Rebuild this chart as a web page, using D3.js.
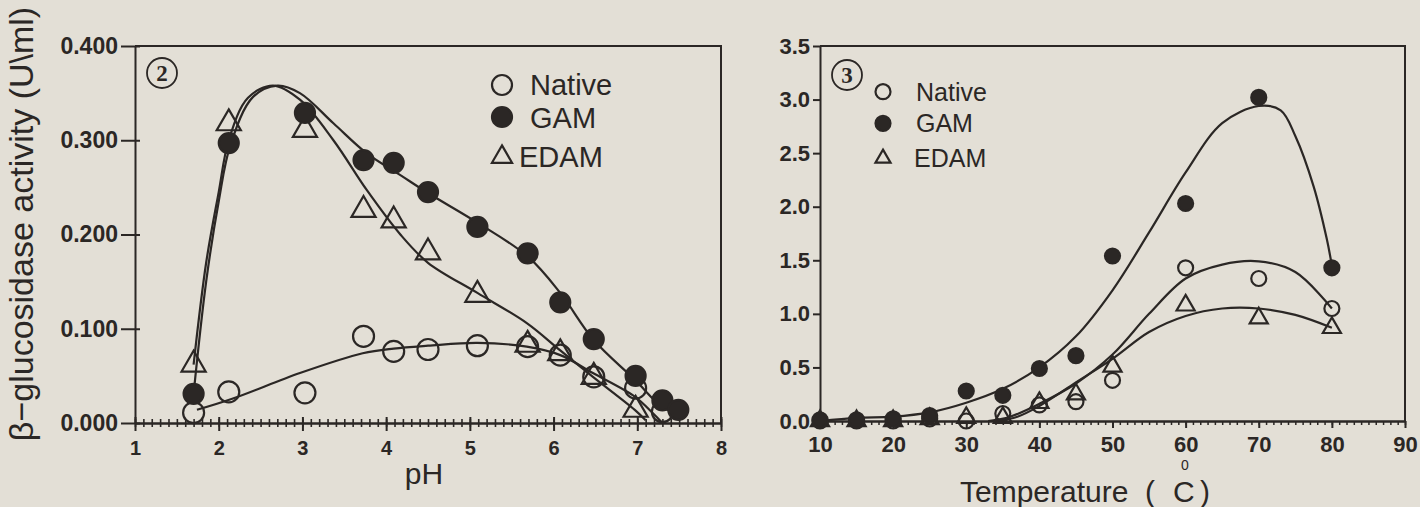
<!DOCTYPE html>
<html>
<head>
<meta charset="utf-8">
<script src="https://cdn.jsdelivr.net/npm/d3@7"></script>
<style>
  body { margin: 0; background: #e3dfd6; }
</style>
</head>
<body>
<div id="chart"></div>
<script>
// ---- panel 2 : activity vs pH ----
const phPoints = [1.7, 2.12, 3.03, 3.73, 4.09, 4.5, 5.09, 5.69, 6.08, 6.48, 6.98, 7.3, 7.49];
const phNative = [0.011, 0.033, 0.032, 0.092, 0.076, 0.078, 0.082, 0.081, 0.072, 0.049, 0.037, 0.012, null];
const phGam    = [0.031, 0.297, 0.329, 0.279, 0.276, 0.245, 0.208, 0.180, 0.128, 0.089, 0.050, 0.024, 0.014];
const phEdam   = [0.062, 0.318, 0.311, 0.226, 0.215, 0.181, 0.136, 0.083, 0.074, 0.049, 0.014, null, null];

// fitted curves as drawn in the figure
const phGamCurve = [[1.7, 0.031], [1.85, 0.15], [2.0, 0.235], [2.14, 0.295], [2.41, 0.346], [2.7, 0.358],
  [2.97, 0.350], [3.37, 0.318], [3.77, 0.286], [4.17, 0.263], [4.5, 0.244], [5.1, 0.212], [5.7, 0.176],
  [6.08, 0.138], [6.48, 0.088], [6.97, 0.046], [7.3, 0.017], [7.5, 0.010]];
const phEdamCurve = [[1.7, 0.062], [1.85, 0.17], [2.0, 0.245], [2.12, 0.30], [2.35, 0.345], [2.65, 0.358],
  [2.97, 0.343], [3.37, 0.300], [3.77, 0.247], [4.17, 0.200], [4.5, 0.170], [5.09, 0.138], [5.68, 0.106],
  [6.08, 0.077], [6.47, 0.049], [6.97, 0.014], [7.1, 0.003]];
const phNativeCurve = [[1.74, 0.014], [2.17, 0.026], [2.97, 0.053], [3.72, 0.074], [4.09, 0.079], [4.5, 0.082],
  [5.09, 0.085], [5.68, 0.081], [6.08, 0.072], [6.47, 0.053], [6.97, 0.028], [7.19, 0.010], [7.3, 0.0]];

const phXTicks = [1, 2, 3, 4, 5, 6, 7, 8];
const phYTicks = [0, 0.1, 0.2, 0.3, 0.4];

// ---- panel 3 : activity vs temperature ----
const tempPoints = [10, 15, 20, 25, 30, 35, 40, 45, 50, 60, 70, 80];
const tempNative = [0.0, 0.0, 0.0, 0.02, 0.0, 0.07, 0.15, 0.18, 0.38, 1.43, 1.33, 1.05];
const tempGam    = [0.01, 0.01, 0.02, 0.05, 0.28, 0.24, 0.49, 0.61, 1.54, 2.03, 3.02, 1.43];
const tempEdam   = [0.0, 0.0, 0.0, 0.02, 0.03, 0.03, 0.17, 0.25, 0.51, 1.08, 0.96, 0.87];

const tempGamCurve = [[10, 0.0], [15, 0.03], [20, 0.04], [25, 0.08], [30, 0.17], [35, 0.30], [40, 0.50],
  [45, 0.79], [50, 1.22], [55, 1.76], [60, 2.32], [65, 2.78], [70, 2.94], [73, 2.90], [75, 2.66],
  [77.5, 2.19], [79.3, 1.70], [80, 1.45]];
const tempNativeCurve = [[33, 0.0], [36, 0.04], [40, 0.16], [45, 0.35], [50, 0.62], [55, 1.00], [60, 1.33],
  [65, 1.46], [70, 1.49], [75, 1.39], [80, 1.05]];
const tempEdamCurve = [[34, 0.0], [37, 0.04], [40, 0.14], [45, 0.36], [50, 0.58], [55, 0.83], [60, 0.98],
  [65, 1.05], [70, 1.05], [75, 0.99], [80, 0.87]];

const tempXTicks = [10, 20, 30, 40, 50, 60, 70, 80, 90];
const tempYTicks = [0, 0.5, 1.0, 1.5, 2.0, 2.5, 3.0, 3.5];

const seriesNames = ["Native", "GAM", "EDAM"];

const ink = "#2b2725";
const paper = "#e3dfd6";
const font = "'Liberation Sans', Arial, sans-serif";

const svg = d3.select("#chart").append("svg")
    .attr("width", 1420)
    .attr("height", 507);

svg.append("rect").attr("width", 1420).attr("height", 507).attr("fill", paper);

const line = (x, y) => d3.line()
    .x(d => x(d[0]))
    .y(d => y(d[1]))
    .curve(d3.curveCatmullRom.alpha(0.5));

function drawMarkers(g, xs, ys, kind, r, x, y) {
    const pts = xs.map((d, i) => [d, ys[i]]).filter(d => d[1] !== null);
    let sym, size;
    if (kind === "EDAM") { sym = d3.symbolTriangle; size = r * r * 1.75; }
    else { sym = d3.symbolCircle; size = Math.PI * r * r; }
    g.selectAll(null)
        .data(pts)
        .enter().append("path")
        .attr("d", d3.symbol().type(sym).size(size))
        .attr("transform", d => `translate(${x(d[0])},${y(d[1])})`)
        .attr("fill", kind === "GAM" ? ink : "none")
        .attr("stroke", ink)
        .attr("stroke-width", 2.2);
}

function styleAxis(g, size) {
    g.attr("font-family", font).attr("font-size", size).attr("font-weight", "bold");
    g.selectAll("path, line").attr("stroke", ink).attr("stroke-width", 2);
    g.selectAll("text").attr("fill", ink);
}

function circledNumber(cx, cy, r, label) {
    svg.append("circle").attr("cx", cx).attr("cy", cy).attr("r", r)
        .attr("fill", "none").attr("stroke", ink).attr("stroke-width", 1.8);
    svg.append("text").attr("x", cx).attr("y", cy + 8)
        .attr("text-anchor", "middle")
        .attr("font-family", "'Liberation Serif', 'DejaVu Serif', serif")
        .attr("font-weight", "bold")
        .attr("font-size", 23)
        .attr("fill", ink)
        .text(label);
}

function legend(x0, textX, rows, r, fontSize) {
    const g = svg.append("g");
    seriesNames.forEach((name, i) => {
        drawMarkers(g, [0], [0], name, r, () => x0, () => rows[i][0]);
        g.append("text")
            .attr("x", textX[i])
            .attr("y", rows[i][1])
            .attr("font-family", font)
            .attr("font-size", fontSize)
            .attr("fill", ink)
            .text(name);
    });
}

// ================= panel 2 =================
{
    const x = d3.scaleLinear().domain([1, 8]).range([135, 721]);
    const y = d3.scaleLinear().domain([0, 0.4]).range([423, 46]);

    // frame (top and right)
    svg.append("path")
        .attr("d", `M${x(1)},${y(0.4)}H${x(8)}V${y(0)}`)
        .attr("fill", "none").attr("stroke", ink).attr("stroke-width", 2);

    // minor x ticks crossing the axis
    svg.append("g")
        .attr("transform", `translate(0,${y(0)})`)
        .call(d3.axisBottom(x).tickValues(d3.range(10, 81).map(d => d / 10)).tickSize(4).tickSizeOuter(0).tickFormat(""))
        .call(g => styleAxis(g, 20))
        .call(g => g.selectAll(".tick line").attr("y1", -4).attr("stroke-width", 1.6));

    svg.append("g")
        .attr("transform", `translate(0,${y(0)})`)
        .call(d3.axisBottom(x).tickValues(phXTicks).tickSize(8).tickPadding(10).tickSizeOuter(0).tickFormat(d3.format("d")))
        .call(g => styleAxis(g, 20))
        .call(g => g.selectAll(".tick line").attr("y1", -6));

    svg.append("g")
        .attr("transform", `translate(${x(1)},0)`)
        .call(d3.axisLeft(y).tickValues(phYTicks).tickSize(14).tickPadding(3).tickSizeOuter(0).tickFormat(d3.format(".3f")))
        .call(g => styleAxis(g, 23))
        .call(g => g.selectAll(".tick line").attr("x1", 5));

    const g = svg.append("g");
    [phNativeCurve, phGamCurve, phEdamCurve].forEach(c => {
        g.append("path").attr("d", line(x, y)(c))
            .attr("fill", "none").attr("stroke", ink).attr("stroke-width", 2.2);
    });
    drawMarkers(g, phPoints, phNative, "Native", 10.5, x, y);
    drawMarkers(g, phPoints, phEdam, "EDAM", 12, x, y);
    drawMarkers(g, phPoints, phGam, "GAM", 10, x, y);

    svg.append("text")
        .attr("x", 424)
        .attr("y", 484)
        .attr("text-anchor", "middle")
        .attr("font-family", font)
        .attr("font-size", 30)
        .attr("fill", ink)
        .text("pH");

    svg.append("text")
        .attr("transform", "translate(33,224) rotate(-90)")
        .attr("text-anchor", "middle")
        .attr("font-family", font)
        .attr("font-size", 34)
        .attr("fill", ink)
        .text("\u03b2\u2212glucosidase activity (U\\ml)");

    circledNumber(162, 73, 15, "2");
    legend(502, [530, 530, 519], [[85, 95], [117, 128], [157, 167]], 10, 29);
}

// ================= panel 3 =================
{
    const x = d3.scaleLinear().domain([10, 90]).range([820, 1405]);
    const y = d3.scaleLinear().domain([0, 3.5]).range([421, 46]);

    svg.append("path")
        .attr("d", `M${x(10)},${y(3.5)}H${x(90)}V${y(0)}`)
        .attr("fill", "none").attr("stroke", ink).attr("stroke-width", 2);

    svg.append("g")
        .attr("transform", `translate(0,${y(0)})`)
        .call(d3.axisBottom(x).tickValues(d3.range(10, 91)).tickSize(4).tickSizeOuter(0).tickFormat(""))
        .call(g => styleAxis(g, 22))
        .call(g => g.selectAll(".tick line").attr("stroke-width", 1.5));

    svg.append("g")
        .attr("transform", `translate(0,${y(0)})`)
        .call(d3.axisBottom(x).tickValues(tempXTicks).tickSize(7).tickPadding(8).tickSizeOuter(0).tickFormat(d3.format("d")))
        .call(g => styleAxis(g, 22));

    svg.append("g")
        .attr("transform", `translate(${x(10)},0)`)
        .call(d3.axisLeft(y).tickValues(tempYTicks).tickSize(7).tickPadding(3).tickSizeOuter(0).tickFormat(d3.format(".1f")))
        .call(g => styleAxis(g, 22));

    const g = svg.append("g");
    [tempNativeCurve, tempGamCurve, tempEdamCurve].forEach(c => {
        g.append("path").attr("d", line(x, y)(c))
            .attr("fill", "none").attr("stroke", ink).attr("stroke-width", 2.2);
    });
    drawMarkers(g, tempPoints, tempNative, "Native", 7.5, x, y);
    drawMarkers(g, tempPoints, tempEdam, "EDAM", 9, x, y);
    drawMarkers(g, tempPoints, tempGam, "GAM", 7.5, x, y);

    const t = svg.append("text")
        .attr("x", 960)
        .attr("y", 502)
        .attr("font-family", font)
        .attr("font-size", 30)
        .attr("fill", ink);
    t.append("tspan").text("Temperature");
    t.append("tspan").attr("x", 1145).text("(");
    t.append("tspan").attr("x", 1173).text("C");
    t.append("tspan").attr("x", 1200).text(")");

    // superscript degree mark above the C
    svg.append("text")
        .attr("x", 1185)
        .attr("y", 470)
        .attr("text-anchor", "middle")
        .attr("font-family", font)
        .attr("font-size", 14)
        .attr("fill", ink)
        .text("0");

    circledNumber(847, 75, 15, "3");
    legend(883, [916, 916, 914], [[91.7, 100.7], [123.3, 132], [158.3, 166.7]], 7.5, 25);
}
</script>
</body>
</html>
